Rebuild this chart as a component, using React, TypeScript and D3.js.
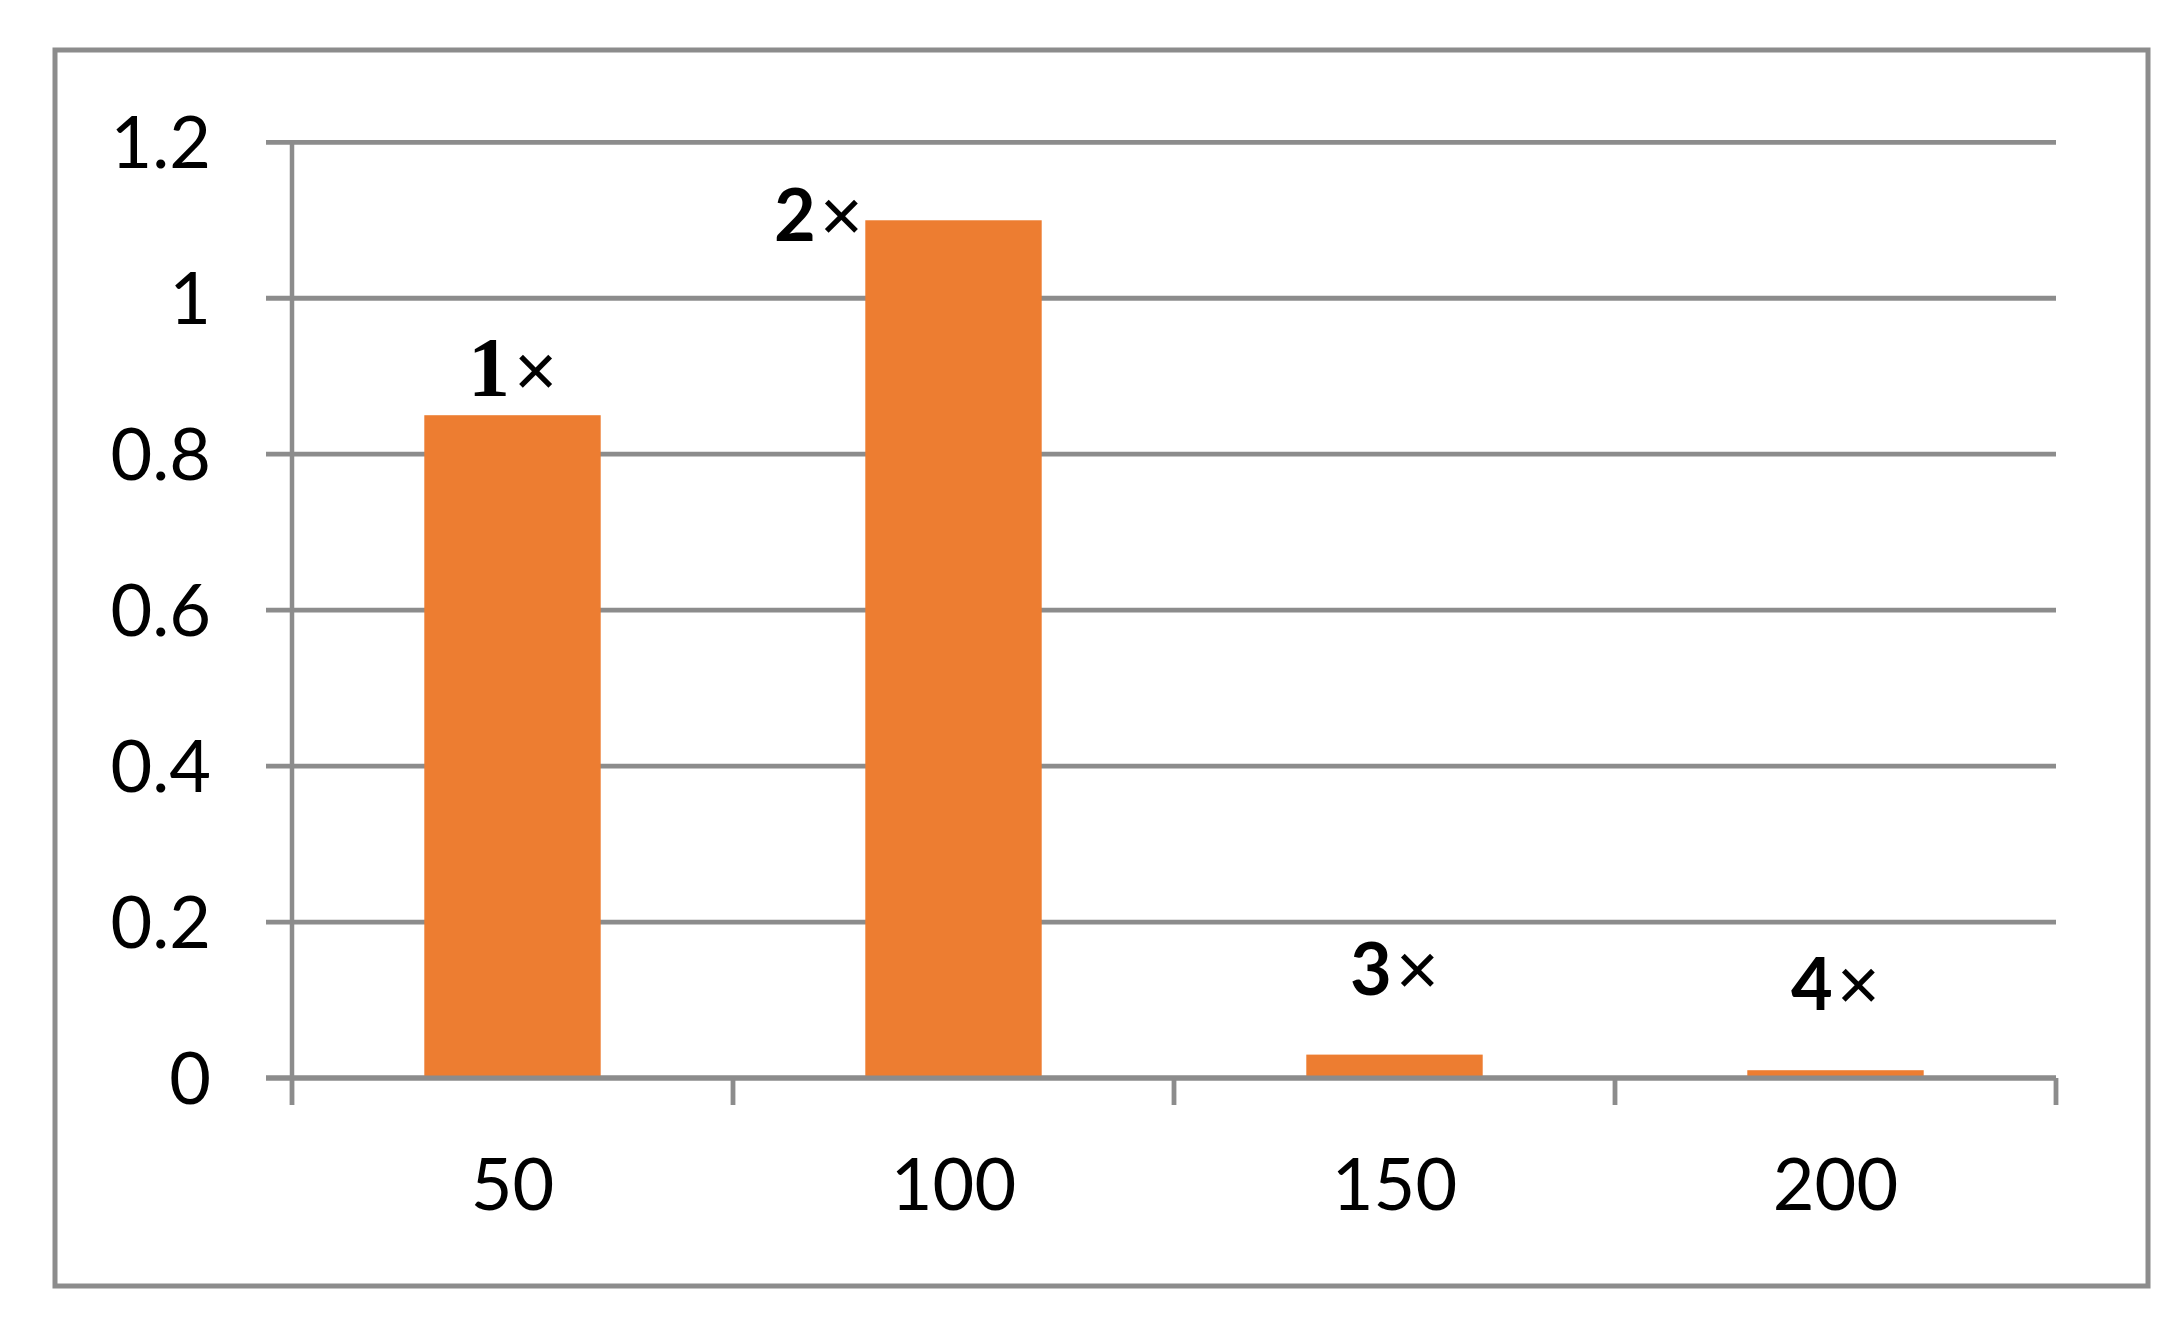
import React from "react";
import * as d3 from "d3";

const categories: string[] = ["50", "100", "150", "200"];
const values: number[] = [0.85, 1.1, 0.03, 0.01];
const labelDigits: string[] = ["1", "2", "3", "4"];
const yTicks: number[] = [0, 0.2, 0.4, 0.6, 0.8, 1, 1.2];

// label layout tweaks (dx from bar center, dy from bar top), not data
const labelLayout = [
  { dx: 0, dy: -19, serif: true },
  { dx: -135, dy: 21, serif: false },
  { dx: 0, dy: -60, serif: false },
  { dx: 0, dy: -60, serif: false },
];

const W = 2182;
const H = 1335;
const plot = { left: 292, right: 2056, top: 142.3, bottom: 1078 };
const grey = "#8c8c8c";
const orange = "#ED7D31";
const font = "Lato, 'Open Sans', sans-serif";

export default function App() {
  const x = d3
    .scaleBand<string>()
    .domain(categories)
    .range([plot.left, plot.right])
    .paddingInner(0.6)
    .paddingOuter(0.3);
  const xCat = d3
    .scaleBand<string>()
    .domain(categories)
    .range([plot.left, plot.right])
    .padding(0);
  const y = d3.scaleLinear().domain([0, 1.2]).range([plot.bottom, plot.top]);

  const catEdges = [...categories.map((c) => xCat(c) as number), plot.right];

  return (
    <svg
      width={W}
      height={H}
      style={{ position: "absolute", left: 0, top: 0, background: "#fff" }}
    >
      <rect x={0} y={0} width={W} height={H} fill="#fff" />
      {/* outer border */}
      <rect x={55} y={50} width={2148 - 55} height={1286 - 50} fill="none" stroke={grey} strokeWidth={5} />
      {/* gridlines */}
      {yTicks.map((t) => (
        <line key={"g" + t} x1={266} x2={plot.right} y1={y(t)} y2={y(t)} stroke={grey} strokeWidth={4.8} />
      ))}
      {/* y axis line */}
      <line x1={plot.left} x2={plot.left} y1={y(1.2)} y2={plot.bottom} stroke={grey} strokeWidth={4.5} />
      {/* x ticks */}
      {catEdges.map((e, i) => (
        <line key={"t" + i} x1={e} x2={e} y1={plot.bottom} y2={1105} stroke={grey} strokeWidth={4.8} />
      ))}
      {/* y tick labels */}
      {yTicks.map((t) => (
        <text
          key={"yl" + t}
          x={211}
          y={y(t) + 26}
          textAnchor="end"
          fontFamily={font}
          fontSize={72}
          fill="#000"
        >
          {String(t)}
        </text>
      ))}
      {/* bars */}
      {categories.map((c, i) => (
        <rect
          key={"b" + c}
          x={x(c)}
          y={y(values[i])}
          width={x.bandwidth()}
          height={plot.bottom - y(values[i])}
          fill={orange}
        />
      ))}
      {/* redraw baseline axis over bars */}
      <line x1={266} x2={plot.right} y1={plot.bottom} y2={plot.bottom} stroke={grey} strokeWidth={4.8} />
      {/* x labels */}
      {categories.map((c) => (
        <text
          key={"xl" + c}
          x={(x(c) as number) + x.bandwidth() / 2}
          y={1210}
          textAnchor="middle"
          fontFamily={font}
          fontSize={72}
          fill="#000"
        >
          {c}
        </text>
      ))}
      {/* data labels */}
      {categories.map((c, i) => {
        const L = labelLayout[i];
        const cx = (x(c) as number) + x.bandwidth() / 2 + L.dx;
        const by = y(values[i]) + L.dy;
        return (
          <text key={"dl" + c} x={cx} y={by} textAnchor="middle" fill="#000">
            <tspan
              fontFamily={L.serif ? "'Liberation Serif', 'DejaVu Serif', serif" : font}
              fontWeight="bold"
              fontSize={L.serif ? 84 : 72}
            >
              {labelDigits[i]}
            </tspan>
            <tspan fontFamily="'Liberation Sans', Arial, sans-serif" fontWeight="normal" fontSize={74} dx={4}>
              ×
            </tspan>
          </text>
        );
      })}
    </svg>
  );
}
